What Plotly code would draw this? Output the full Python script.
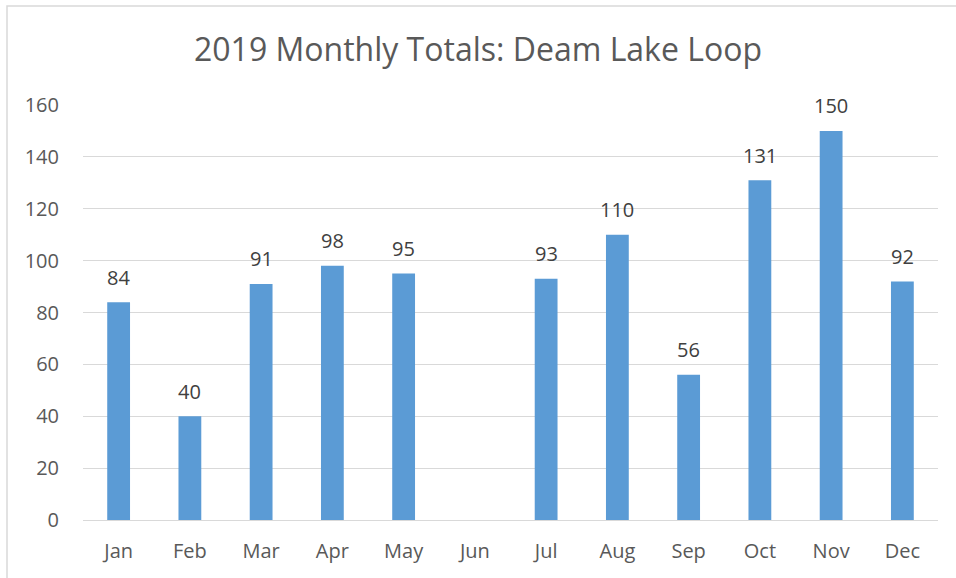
import plotly.graph_objects as go

months = ["Jan", "Feb", "Mar", "Apr", "May", "Jun", "Jul", "Aug", "Sep", "Oct", "Nov", "Dec"]
totals = [84, 40, 91, 98, 95, None, 93, 110, 56, 131, 150, 92]
y_ticks = [0, 20, 40, 60, 80, 100, 120, 140, 160]

W, H = 956, 578
L, R, T, B = 83, 18, 105, 58
pw, ph = W - L - R, H - T - B
FONT = "Open Sans"

fig = go.Figure(go.Bar(
    x=months, y=totals,
    marker=dict(color="#5B9BD5", line=dict(width=0)),
    width=0.32,
    hoverinfo="x+y",
))

for m, v in zip(months, totals):
    if v is None:
        continue
    fig.add_annotation(x=m, y=v, text=str(v), showarrow=False, yanchor="middle",
                       yshift=25, font=dict(size=20, color="#404040", family=FONT))

fig.update_layout(
    width=W, height=H,
    margin=dict(l=L, r=R, t=T, b=B, pad=0),
    paper_bgcolor="white", plot_bgcolor="white",
    font=dict(family=FONT, color="#595959", size=20),
    title=dict(text="2019 Monthly Totals: Deam Lake Loop", x=0.5, xanchor="center",
               y=1 - 50 / H, yanchor="middle",
               font=dict(size=32, color="#595959", family=FONT)),
    showlegend=False,
)
fig.update_xaxes(showgrid=False, showline=False, ticks="", tickfont=dict(size=20, color="#595959"),
                 ticklabelstandoff=17)
fig.update_yaxes(range=[0, 160], tickvals=y_ticks, showgrid=True, gridcolor="#D9D9D9", gridwidth=1,
                 zeroline=True, zerolinecolor="#D9D9D9", zerolinewidth=1,
                 showline=False, ticks="", tickfont=dict(size=20, color="#595959"),
                 ticklabelstandoff=23)

# outer chart frame
fig.add_shape(type="rect", xref="paper", yref="paper",
              x0=(7 - L) / pw, x1=(W + 5 - L) / pw,
              y0=-(B + 5) / ph, y1=(H - 6 - B) / ph,
              line=dict(color="#D9D9D9", width=1.5), fillcolor="rgba(0,0,0,0)", layer="below")

fig.write_html("out.html", config={"displayModeBar": False},
               post_script="document.body.style.margin='0';")
